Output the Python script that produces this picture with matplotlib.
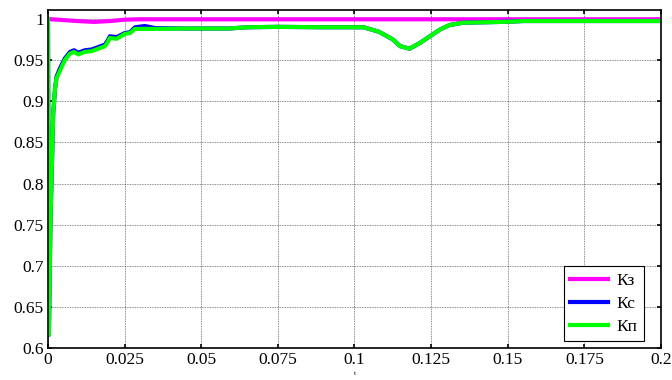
import matplotlib.pyplot as plt

# Time points and coefficient values
t_kz = [0, 0.002, 0.006, 0.010, 0.015, 0.020, 0.025, 0.030, 0.2]
k_z = [1.0, 0.9995, 0.9985, 0.9975, 0.9965, 0.9975, 0.9992, 0.9997, 0.9997]

t_k = [0, 0.0003, 0.0008, 0.0012, 0.0017, 0.0023, 0.0028, 0.0039, 0.0055,
       0.0072, 0.0085, 0.0099, 0.0120, 0.0143, 0.0165, 0.0186, 0.0195,
       0.0202, 0.0224, 0.0251, 0.0268, 0.0284, 0.0316, 0.035, 0.045,
       0.059, 0.065, 0.075, 0.090, 0.100, 0.103, 0.108, 0.1126, 0.1149,
       0.118, 0.1214, 0.1246, 0.128, 0.131, 0.1354, 0.150, 0.155, 0.2]
k_s = [1.0, 0.616, 0.75, 0.81, 0.885, 0.915, 0.930, 0.940, 0.952,
       0.960, 0.962, 0.959, 0.962, 0.963, 0.966, 0.969, 0.974,
       0.979, 0.978, 0.983, 0.984, 0.990, 0.9915, 0.989, 0.9885,
       0.9885, 0.990, 0.9905, 0.990, 0.990, 0.990, 0.9845, 0.975, 0.967,
       0.964, 0.971, 0.979, 0.9874, 0.9927, 0.9955, 0.9967, 0.9976, 0.9976]
k_p = [1.0, 0.616, 0.75, 0.81, 0.885, 0.915, 0.928, 0.937, 0.950,
       0.958, 0.960, 0.957, 0.960, 0.961, 0.964, 0.967, 0.972,
       0.977, 0.976, 0.982, 0.983, 0.988, 0.988, 0.988, 0.9885,
       0.9885, 0.990, 0.9905, 0.990, 0.990, 0.990, 0.9845, 0.975, 0.967,
       0.964, 0.971, 0.979, 0.9874, 0.9927, 0.9955, 0.9967, 0.9976, 0.9976]

labels = ['Кз', 'Кс', 'Кп']
xticks = [0, 0.025, 0.05, 0.075, 0.1, 0.125, 0.15, 0.175, 0.2]
xticklabels = ['0', '0.025', '0.05', '0.075', '0.1', '0.125', '0.15', '0.175', '0.2']
yticks = [0.6, 0.65, 0.7, 0.75, 0.8, 0.85, 0.9, 0.95, 1.0]
yticklabels = ['0.6', '0.65', '0.7', '0.75', '0.8', '0.85', '0.9', '0.95', '1']

plt.rcParams['font.family'] = ['Liberation Serif', 'DejaVu Serif']

fig = plt.figure(figsize=(6.72, 3.80), dpi=100)
ax = fig.add_axes([0.0714, 0.0842, 0.9122, 0.8895])

ax.plot(t_kz, k_z, color='#ff00ff', lw=3, label=labels[0])
ax.plot(t_k, k_s, color='#0000ff', lw=3, label=labels[1])
ax.plot(t_k, k_p, color='#00ff00', lw=3, label=labels[2])

ax.set_xlim(0, 0.2)
ax.set_ylim(0.6, 1.011)
ax.set_xticks(xticks)
ax.set_xticklabels(xticklabels)
ax.set_yticks(yticks)
ax.set_yticklabels(yticklabels)
ax.tick_params(direction='in', length=3, width=1.2, top=True, right=True,
               labelsize=12.5, colors='black', pad=3)
ax.grid(True, color='black', linestyle=(0, (1, 1)), lw=0.6, alpha=0.6)
for s in ax.spines.values():
    s.set_linewidth(1.2)
ax.set_xlabel('t', fontsize=5, labelpad=2)

leg = ax.legend(loc='lower right', bbox_to_anchor=(0.972, 0.021),
                fontsize=12.5, handlelength=2.2,
                fancybox=False, framealpha=1, edgecolor='black',
                borderaxespad=0, labelspacing=0.4, borderpad=0.35,
                handletextpad=0.5)
leg.get_frame().set_linewidth(0.8)

fig.savefig('out.png', dpi=100)
